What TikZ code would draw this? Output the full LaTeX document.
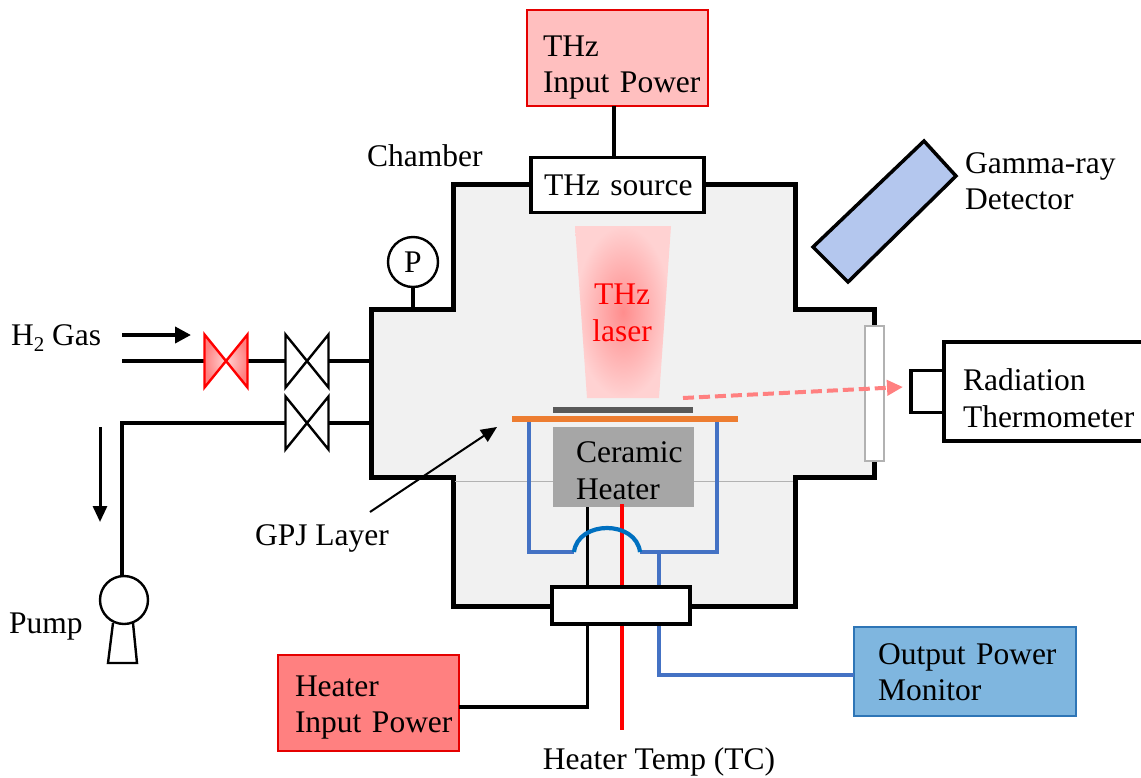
\documentclass[tikz,border=0pt]{standalone}
\usepackage{fontspec}
\setmainfont{Liberation Serif}
\usepackage{xcolor}
\usetikzlibrary{arrows.meta, positioning}

\definecolor{chamberfill}{HTML}{F1F1F1}
\definecolor{thzpink}{HTML}{FFBFBF}
\definecolor{heaterred}{HTML}{FF8080}
\definecolor{monitorblue}{HTML}{7FB6DF}
\definecolor{monitoredge}{HTML}{2E75B6}
\definecolor{wireblue}{HTML}{4472C4}
\definecolor{archblue}{HTML}{0070C0}
\definecolor{detectorblue}{HTML}{B4C7EE}
\definecolor{layerorange}{HTML}{ED7D31}

\tikzset{
    every node/.style={font=\fontsize{15.75}{18.25}\selectfont},
    box/.style={draw, rectangle, inner sep=0pt, outer sep=0pt, line width=1.6pt, align=left},
    text inset/.style={execute at begin node={\leftskip=#1\relax}},
    valve/.style={rectangle, inner sep=0pt, outer sep=0pt, minimum width=21.5pt, minimum height=26.5pt},
    pipe/.style={line width=1.9pt},
    wire/.style={line width=1.9pt, wireblue}
}

\begin{document}
\begin{tikzpicture}[x=0.5pt, y=-0.5pt]
    \useasboundingbox (0,0) rectangle (1141,777);

    % Chamber body
    \draw[fill=chamberfill, line width=2.5pt, line join=miter] (453,184) -- (795,184) -- (795,309) -- (874,309)
        -- (874,477) -- (795,477) -- (795,606) -- (453,606) -- (453,477) -- (371,477) -- (371,309) -- (453,309) -- cycle;
    \draw[line width=0.5pt, black!30] (455,481) -- (793,481);
    \node[anchor=base west] (chamber_label) at (360,166) {Chamber};

    % THz source and its power box
    \node[box, fill=white, minimum height=27.5pt, text width=86.5pt, text inset=6.5pt] (thz_source) at (617.5,185) {THz source};
    \node[box, above=26pt of thz_source, draw=red!90!black, line width=1pt, fill=thzpink, minimum height=48pt, text width=90.5pt, text inset=8pt] (thz_power) {\rule{0pt}{20.6pt}THz\\Input Power};
    \draw[pipe] (thz_power.south -| 614,0) -- (thz_source.north -| 614,0);

    % Beam
    \shade[inner color=heaterred!90!white, outer color=thzpink!70!white] (575,226) -- (671,226) -- (659,398) -- (587,398) -- cycle;
    \node[align=center, text=red] (thz_laser) at (622,313) {THz\\laser};

    % Gamma detector
    \draw[fill=detectorblue, line width=1.75pt] (813,247) -- (924,141) -- (956,176) -- (848,282) -- cycle;
    \node[align=left, anchor=west] (detector_label) at (958,181) {Gamma-ray\\Detector};

    % Pressure gauge
    \node[draw, circle, fill=white, line width=1.2pt, minimum size=25pt, inner sep=0pt] (gauge) at (413,262) {P};
    \coordinate (gauge_port) at (413,309);
    \draw[line width=1.75pt] (gauge) -- (gauge_port);

    % Gas line
    \node[anchor=base west] (gas_label) at (4,345) {H\raisebox{-3pt}{\fontsize{10.5}{10.5}\selectfont 2} Gas};
    \coordinate (gas_from) at (122,335);
    \coordinate (gas_to) at (191,335);
    \draw[pipe, -{Triangle[length=8pt, width=8pt]}] (gas_from) -- (gas_to);
    \node[valve] (valve_red) at (226,361) {};
    \node[valve] (valve_gas) at (307,361) {};
    \node[valve] (valve_pump) at (307,423) {};
    \coordinate (gas_start) at (122,361);
    \coordinate (gas_port) at (371,361);
    \coordinate (pump_port) at (371,423);
    \coordinate (pump_corner) at (122,423);
    \draw[pipe] (gas_start) -- (valve_red) (valve_red) -- (valve_gas) (valve_gas) -- (gas_port);
    \draw[pipe] (pump_port) -- (valve_pump);
    \shade[inner color=thzpink!70!white, outer color=heaterred, draw=red, line width=1.2pt] (valve_red.south west) -- (valve_red.north east) -- (valve_red.south east) -- (valve_red.north west) -- cycle;
    \foreach \v in {valve_gas, valve_pump}
        \draw[fill=white, line width=1.2pt] (\v.south west) -- (\v.north east) -- (\v.south east) -- (\v.north west) -- cycle;

    % Pump
    \node[draw, circle, line width=1.2pt, minimum size=24pt, inner sep=0pt] (pump) at (124,600) {};
    \draw[pipe] (valve_pump) -- (pump_corner) -- (pump_corner |- pump.north);
    \draw[line width=1.2pt] (113,623) -- (108,663) -- (137,663) -- (133,623);
    \node[anchor=base west] (pump_label) at (2,633) {Pump};
    \coordinate (flow_from) at (100,427);
    \coordinate (flow_to) at (100,522);
    \draw[line width=1.5pt, -{Triangle[length=8pt, width=7pt]}] (flow_from) -- (flow_to);

    % Window and thermometer
    \node[draw=black!30, fill=white, line width=1pt, rectangle, inner sep=0pt, minimum width=9.5pt, minimum height=67.5pt] (window) at (874.5,393.5) {};
    \node[box, fill=white, minimum height=49.5pt, text width=105pt, text inset=9.5pt] (thermometer) at (1049,391.5) {\rule{0pt}{17.75pt}Radiation\\Thermometer};
    \node[draw, rectangle, line width=1.6pt, inner sep=0pt, outer sep=0pt, minimum width=16.5pt, minimum height=21pt, left=0pt of thermometer] (probe) {};
    \coordinate (glow_from) at (683,398);
    \coordinate (glow_to) at (903,387);
    \draw[heaterred, line width=2pt, dash pattern=on 5.5pt off 2.5pt, -{Triangle[length=8pt, width=7.5pt]}] (glow_from) -- (glow_to);

    % Heater stack
    \node[fill=black!65, rectangle, inner sep=0pt, minimum width=70pt, minimum height=3pt] (sample) at (623,410) {};
    \node[fill=layerorange, rectangle, inner sep=0pt, minimum width=113pt, minimum height=3pt] (gpj_layer) at (625,419) {};
    \node[fill=black!35, rectangle, inner sep=0pt, outer sep=0pt, minimum height=40pt, text width=70.5pt, text inset=11.5pt, align=left] (heater) at (623.5,467) {\rule{0pt}{14.25pt}Ceramic\\Heater};

    % Heater power and monitor boxes
    \node[box, draw=red!90!black, line width=1pt, fill=heaterred, minimum height=48pt, text width=90.5pt, text inset=8.5pt] (heater_power) at (368.5,703) {\rule{0pt}{14.6pt}Heater\\Input Power};
    \node[box, draw=monitoredge, line width=1pt, fill=monitorblue, minimum height=44.5pt, text width=111pt, text inset=12pt] (monitor) at (965,671.5) {\rule{0pt}{10.9pt}Output Power\\Monitor};

    % Wires
    \coordinate (wire_left) at (529,422);
    \coordinate (wire_right) at (717,422);
    \coordinate (arch_left) at (574,552);
    \coordinate (arch_right) at (640,552);
    \coordinate (wire_drop) at (659,552);
    \coordinate (monitor_feed) at (659,675);
    \coordinate (heater_feed) at (587.5,507);
    \coordinate (feed_corner) at (587.5,707);
    \coordinate (tc_top) at (622,504);
    \coordinate (tc_end) at (622,730);
    \draw[wire, line join=miter] (wire_left) |- (arch_left);
    \draw[wire, line join=miter] (wire_right) |- (arch_right);
    \draw[pipe] (heater_feed) -- (feed_corner) -- (heater_power.east |- feed_corner);
    \draw[line width=2pt, red] (tc_top) -- (tc_end);
    \draw[wire, line join=miter] (wire_drop) -- (monitor_feed) -- (monitor.west |- monitor_feed);
    \draw[line width=2.1pt, archblue] (arch_left) .. controls (578,520) and (636,520) .. (arch_right);
    \node[box, fill=white, minimum height=18.5pt, text width=69pt] (connector) at (621,605.5) {};
    \node[anchor=base] (tc_label) at (659,769) {Heater Temp (TC)};

    % GPJ arrow
    \node[anchor=base west] (gpj_label) at (248,545) {GPJ Layer};
    \coordinate (gpj_from) at (370,512);
    \coordinate (gpj_to) at (497,427);
    \draw[line width=1pt, -{Triangle[length=8pt, width=7pt]}] (gpj_from) -- (gpj_to);

\end{tikzpicture}
\end{document}
